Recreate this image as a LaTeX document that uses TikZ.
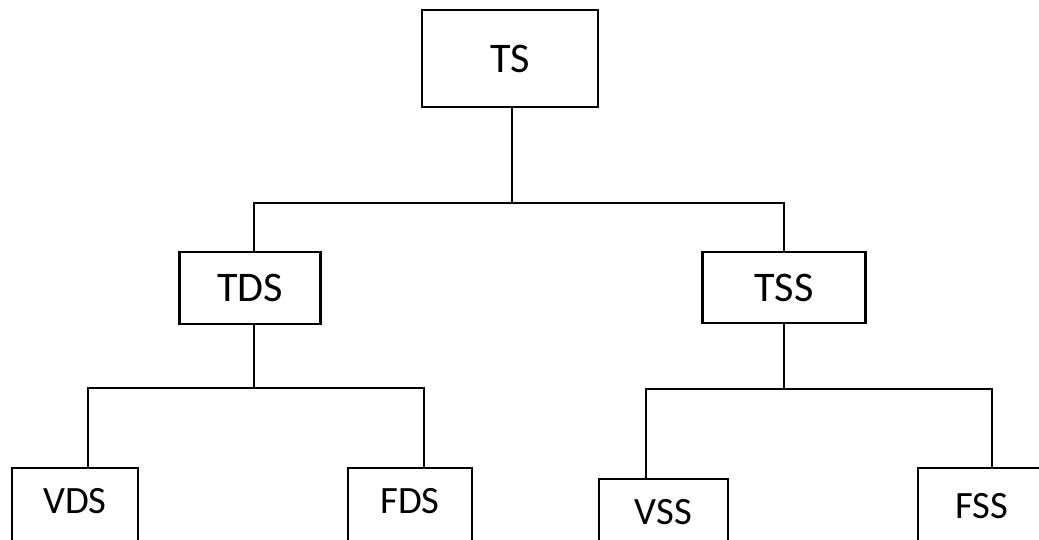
\documentclass[tikz,border=0pt]{standalone}
\usepackage{fontspec}
\setmainfont{Carlito}
\usetikzlibrary{calc}

\tikzset{
  topbox/.style={draw,line width=1.2pt,inner sep=0pt,font=\fontsize{24}{28}\selectfont},
  leafbox/.style={draw,line width=1.2pt,inner sep=0pt,anchor=north,text height=0.9cm,text depth=1.2cm,font=\fontsize{22}{26}\selectfont},
  link/.style={line width=1.2pt}
}

\begin{document}
\begin{tikzpicture}[x=0.02cm,y=-0.02cm]
\useasboundingbox (0,0) rectangle (1039,539);
\clip (0,0) rectangle (1039,539);
\node[topbox,minimum width=3.52cm,minimum height=1.94cm] (ts) at (510,58.5) {TS};
\node[topbox,minimum width=2.82cm,minimum height=1.44cm] (tds) at (250,288) {TDS};
\node[topbox,minimum width=3.26cm,minimum height=1.42cm] (tss) at (784,287.5) {TSS};
\node[leafbox,minimum width=2.52cm] (vds) at (75,467) {VDS};
\node[leafbox,minimum width=2.48cm] (fds) at (410,467) {FDS};
\node[leafbox,minimum width=2.58cm] (vss) at (663.5,478) {VSS};
\node[leafbox,minimum width=2.56cm,text height=1cm] (fss) at (982,467) {FSS};
\coordinate (tsbar) at (512,203);
\coordinate (tdsbar) at (254,388);
\coordinate (tssbar) at (784,389);
\draw[link] (ts.south -| tsbar) -- (tsbar);
\draw[link] (tds.north -| tdsbar) |- (tsbar) -| (tss.north);
\draw[link] (tds.south -| tdsbar) -- (tdsbar);
\draw[link] ($(vds.north)+(13,0)$) |- (tdsbar) -| ($(fds.north)+(14,0)$);
\draw[link] (tss.south) -- (tssbar);
\draw[link] ($(vss.north)+(-17.5,0)$) |- (tssbar) -| ($(fss.north)+(10,0)$);
\end{tikzpicture}
\end{document}
